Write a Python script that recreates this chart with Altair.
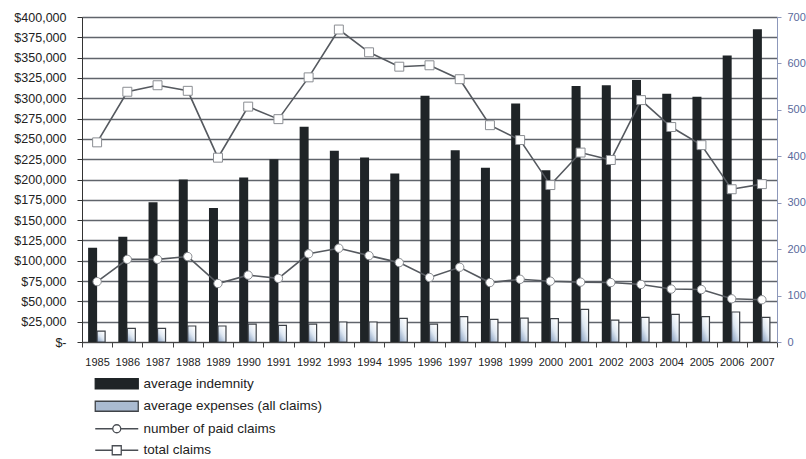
import altair as alt
import pandas as pd

# Yearly claim statistics, 1985-2007
years = [str(y) for y in range(1985, 2008)]

avg_indemnity = [116000, 129500, 172000, 200000, 165000, 202500, 225000, 265000,
                 235500, 227000, 207500, 303000, 236000, 214500, 293500, 211500,
                 315000, 316000, 322500, 305500, 302000, 352500, 385000]

avg_expenses = [13500, 16800, 16800, 19700, 19700, 22000, 20500, 22000,
                24600, 24600, 29000, 22100, 31200, 27900, 29500, 28700,
                40200, 27000, 30400, 34000, 31200, 36900, 30400]

paid_claims = [130, 178, 178, 184, 126, 144, 137, 190,
               202, 186, 171, 139, 161, 128, 135, 131,
               129, 128, 124, 114, 113, 93, 91]

total_claims = [430, 539, 553, 541, 397, 507, 480, 570,
                673, 624, 593, 596, 566, 467, 435, 338,
                408, 392, 521, 463, 424, 329, 340]

legend_labels = ["average indemnity", "average expenses (all claims)",
                 "number of paid claims", "total claims"]

df = pd.DataFrame({
    "year": years,
    "indemnity": avg_indemnity,
    "expenses": avg_expenses,
    "paid": paid_claims,
    "total": total_claims,
})

FONT = "Liberation Sans"
DARK = "#1f2427"
LINE = "#55595f"

x_enc = alt.X("year:O", sort=years,
              scale=alt.Scale(paddingInner=0, paddingOuter=0),
              axis=alt.Axis(title=None, labelAngle=0, tickBand="extent",
                            tickSize=5, labelPadding=9, labelFontSize=11,
                            labelColor="#222", domainColor="#444",
                            tickColor="#444", grid=False, labelOverlap=False))

left_scale = alt.Scale(domain=[0, 400000])
left_axis = alt.Axis(title=None, values=list(range(0, 400001, 25000)),
                     labelExpr="datum.value == 0 ? '$-' : '$' + format(datum.value, ',')",
                     labelFontSize=12.5, labelColor="#222", tickSize=5,
                     labelPadding=11, domainColor="#333", tickColor="#333",
                     labelOverlap=False,
                     grid=True, gridColor="#60646b", gridWidth=1.6)

base = alt.Chart(df)

indemnity_bars = base.mark_bar(width=9, xOffset=-4.5, color=DARK).encode(
    x=x_enc,
    y=alt.Y("indemnity:Q", scale=left_scale, axis=left_axis),
)

expense_fill = alt.LinearGradient(
    gradient="linear",
    stops=[alt.GradientStop(color="#7f98bb", offset=0),
           alt.GradientStop(color="#dfe8f2", offset=0.55),
           alt.GradientStop(color="#ffffff", offset=1)],
    x1=0, y1=1, x2=0.7, y2=0,
)

expense_bars = base.mark_bar(width=8, xOffset=4, fill=expense_fill,
                             stroke="#3c4046", strokeWidth=1.2).encode(
    x=x_enc,
    y=alt.Y("expenses:Q", scale=left_scale, axis=left_axis),
)

left = alt.layer(indemnity_bars, expense_bars)

right_scale = alt.Scale(domain=[0, 700])
right_axis = alt.Axis(title=None, orient="right", values=list(range(0, 701, 100)),
                      labelFontSize=11, labelColor="#5a6a9c", tickSize=4,
                      labelPadding=6, domainColor="#8d98bb", tickColor="#8d98bb",
                      labelOverlap=False, grid=False)

paid_line = base.mark_line(color=LINE, strokeWidth=1.6).encode(
    x=x_enc,
    y=alt.Y("paid:Q", scale=right_scale, axis=right_axis),
)
paid_pts = base.mark_point(shape="circle", filled=True, fill="white",
                           stroke="#8a8d92", strokeWidth=1, size=70, opacity=1).encode(
    x=x_enc,
    y=alt.Y("paid:Q", scale=right_scale, axis=right_axis),
)
total_line = base.mark_line(color=LINE, strokeWidth=1.6).encode(
    x=x_enc,
    y=alt.Y("total:Q", scale=right_scale, axis=right_axis),
)
total_pts = base.mark_point(shape="square", filled=True, fill="white",
                            stroke="#8a8d92", strokeWidth=1, size=80, opacity=1).encode(
    x=x_enc,
    y=alt.Y("total:Q", scale=right_scale, axis=right_axis),
)

# Legend entries: points sit below the y domain and are clipped away,
# only their legend symbols are shown.
legend_df = pd.DataFrame({"series": legend_labels, "year": years[0], "v": -100})
legend_shapes = [
    "M-4.3,-1H4.3V1H-4.3Z",
    "M-4.3,-1H4.3V1H-4.3Z",
    "M-4.3,0H-0.8M0.8,0H4.3M-0.8,0A0.8,0.8 0 1,1 0.8,0A0.8,0.8 0 1,1 -0.8,0Z",
    "M-4.3,0H-0.9M0.9,0H4.3M-0.9,-0.9H0.9V0.9H-0.9Z",
]
legend_fills = [DARK, "#aabbd1", "white", "white"]
legend_strokes = [DARK, "#3f4348", "#4a4e54", "#4a4e54"]

legend_layer = alt.Chart(legend_df).mark_point(
    filled=True, clip=True, opacity=1, strokeWidth=1.3
).encode(
    x=alt.X("year:O", sort=years),
    y=alt.Y("v:Q", scale=right_scale, axis=right_axis),
    fill=alt.Fill("series:N", sort=legend_labels,
                  scale=alt.Scale(domain=legend_labels, range=legend_fills),
                  legend=alt.Legend(title=None, orient="none", legendX=28,
                                    legendY=360, direction="vertical",
                                    symbolSize=100, symbolStrokeWidth=1.3,
                                    symbolOpacity=1, labelOffset=20,
                                    labelFontSize=13.5, labelColor="#222",
                                    labelLimit=400,
                                    rowPadding=6.5, padding=0)),
    stroke=alt.Stroke("series:N", sort=legend_labels,
                      scale=alt.Scale(domain=legend_labels, range=legend_strokes)),
    shape=alt.Shape("series:N", sort=legend_labels,
                    scale=alt.Scale(domain=legend_labels, range=legend_shapes)),
)

right = alt.layer(paid_line, total_line, paid_pts, total_pts, legend_layer)

chart = alt.layer(left, right).resolve_scale(y="independent").properties(
    width=695,
    height=325,
    padding={"left": 82, "top": 17, "right": 29, "bottom": 117},
    autosize=alt.AutoSizeParams(type="none"),
    background="white",
).configure_view(
    fill="#cdd3dc",
    stroke="#9aa0a8",
).configure(
    font=FONT,
)

chart.save("out.html", embed_options={"renderer": "svg", "actions": False})
